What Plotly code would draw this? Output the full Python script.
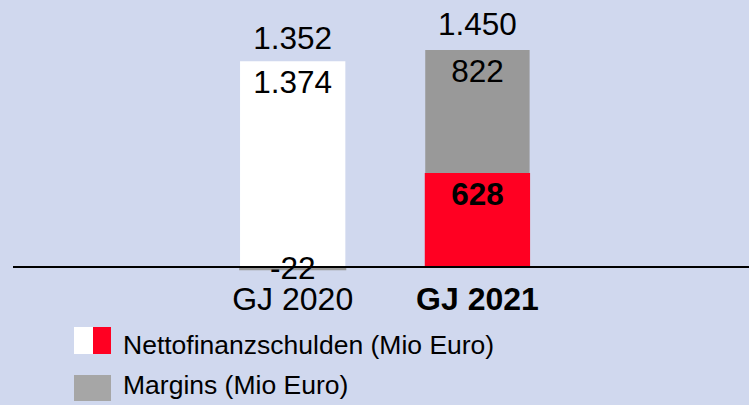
import plotly.graph_objects as go

categories = ["GJ 2020", "GJ 2021"]
tick_labels = ["GJ 2020", "<b>GJ 2021</b>"]
netto = [1374, 628]
margins = [-22, 822]
totals = [n + m for n, m in zip(netto, margins)]

legend_names = ["Nettofinanzschulden (Mio Euro)", "Margins (Mio Euro)"]

BG = "#D0D8EE"
RED = "#FF0022"
GREY = "#999999"
LEG_GREY = "#A6A6A6"
FONT = "Liberation Sans, Arial, Helvetica, sans-serif"
LBL = 31.5

W, H = 749, 405


def de(v):
    return f"{v:,}".replace(",", ".")


fig = go.Figure()
fig.add_trace(go.Bar(
    x=categories, y=netto, name=legend_names[0],
    marker=dict(color=["#FFFFFF", RED], line=dict(width=0)),
    width=0.57,
    texttemplate=["%{y:,}", "<b>%{y:,}</b>"],
    textposition="inside", insidetextanchor="end",
    constraintext="none",
    textfont=dict(size=LBL, color="black", family=FONT),
    showlegend=False,
))
fig.add_trace(go.Bar(
    x=categories, y=margins, name=legend_names[1],
    marker=dict(color=GREY, line=dict(width=0)),
    width=[0.58, 0.565],
    texttemplate=["", "%{y:,}"],
    textposition="inside", insidetextanchor="end",
    constraintext="none",
    textfont=dict(size=LBL, color="black", family=FONT),
    showlegend=False,
))
fig.add_trace(go.Scatter(
    x=categories, y=totals, mode="markers+text",
    marker=dict(size=10, opacity=0),
    text=[de(t) for t in totals],
    textposition="top center",
    textfont=dict(size=LBL, color="black", family=FONT),
    showlegend=False, cliponaxis=False, hoverinfo="skip",
))


def px(x):
    return x / W


def py(y):
    return 1 - y / H


shapes = [
    dict(type="rect", xref="paper", yref="paper", x0=px(74), x1=px(93), y0=py(354), y1=py(327),
         fillcolor="#FFFFFF", line=dict(width=0)),
    dict(type="rect", xref="paper", yref="paper", x0=px(93), x1=px(111), y0=py(354), y1=py(327),
         fillcolor=RED, line=dict(width=0)),
    dict(type="rect", xref="paper", yref="paper", x0=px(74), x1=px(111), y0=py(401), y1=py(375),
         fillcolor=LEG_GREY, line=dict(width=0)),
]
annotations = [
    dict(xref="paper", yref="paper", x=px(121), y=py(345), text=legend_names[0], showarrow=False,
         xanchor="left", yanchor="middle", font=dict(size=26.5, color="black", family=FONT)),
    dict(xref="paper", yref="paper", x=px(121), y=py(385), text=legend_names[1], showarrow=False,
         xanchor="left", yanchor="middle", font=dict(size=26.5, color="black", family=FONT)),
    dict(xref="x", yref="y", x=categories[0], y=margins[0] / 2, text=de(margins[0]), showarrow=False,
         xanchor="center", yanchor="middle", yshift=1,
         font=dict(size=LBL, color="black", family=FONT)),
]

scale = 0.1497
fig.update_layout(
    width=W, height=H,
    margin=dict(l=0, r=0, t=0, b=0),
    paper_bgcolor=BG, plot_bgcolor=BG,
    barmode="relative",
    separators=",.",
    font=dict(family=FONT, color="black"),
    shapes=shapes, annotations=annotations,
    xaxis=dict(
        domain=[13 / W, 1], range=[-1.514, 2.47],
        tickmode="array", tickvals=categories, ticktext=tick_labels,
        anchor="free", position=(H - 267) / H,
        showline=True, linecolor="black", linewidth=2,
        ticks="", showgrid=False, zeroline=False,
        ticklabelstandoff=4,
        tickfont=dict(size=32, color="black", family=FONT),
    ),
    yaxis=dict(
        domain=[0, 1], range=[-(H - 267) / scale, 267 / scale],
        visible=False, showgrid=False, zeroline=False,
    ),
)

fig.write_html(
    "out.html",
    config={"displayModeBar": False},
    post_script="document.body.style.margin='0';document.body.style.overflow='hidden';",
)
